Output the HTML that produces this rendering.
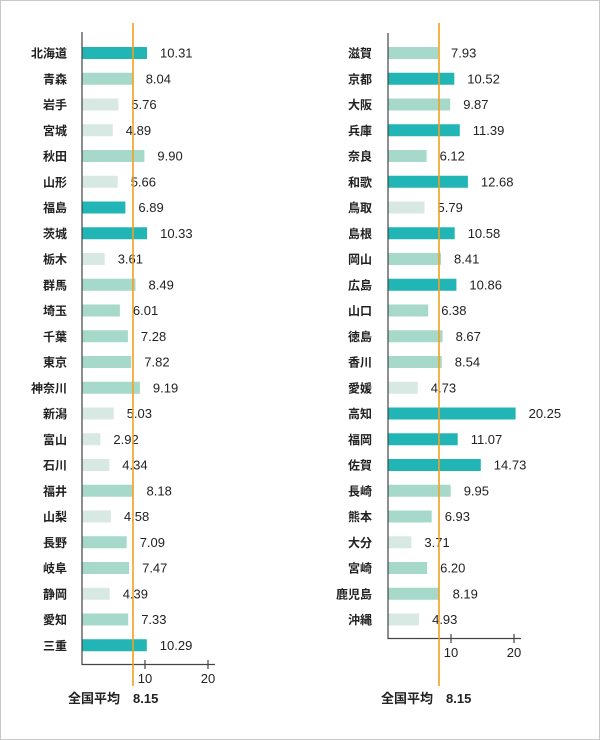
<!DOCTYPE html>
<html><head><meta charset="utf-8"><style>
html,body{margin:0;padding:0;background:#fff}
svg{display:block}
text{font-family:"Liberation Sans","Noto Sans CJK JP",sans-serif;fill:#222}
.n{font-size:12px;font-weight:bold;text-anchor:end}
.v{font-size:13px}
.d{fill:#22b5b5}.m{fill:#a6d9c9}.l{fill:#d8e9e3}
</style></head><body>
<svg width="600" height="740" viewBox="0 0 600 740">
<rect x="0.5" y="0.5" width="599" height="739" fill="#fff" stroke="#c8c8c8"/>
<!-- LEFT -->
<g>
<g transform="translate(0,53)"><text class="n" x="67" y="4.5">北海道</text><rect class="d" x="82" y="-6" width="65" height="12"/><text class="v" x="160" y="4.5">10.31</text></g>
<g transform="translate(0,78.75)"><text class="n" x="67" y="4.5">青森</text><rect class="m" x="82" y="-6" width="50.7" height="12"/><text class="v" x="145.7" y="4.5">8.04</text></g>
<g transform="translate(0,104.5)"><text class="n" x="67" y="4.5">岩手</text><rect class="l" x="82" y="-6" width="36.3" height="12"/><text class="v" x="131.3" y="4.5">5.76</text></g>
<g transform="translate(0,130.25)"><text class="n" x="67" y="4.5">宮城</text><rect class="l" x="82" y="-6" width="30.8" height="12"/><text class="v" x="125.8" y="4.5">4.89</text></g>
<g transform="translate(0,156)"><text class="n" x="67" y="4.5">秋田</text><rect class="m" x="82" y="-6" width="62.4" height="12"/><text class="v" x="157.4" y="4.5">9.90</text></g>
<g transform="translate(0,181.75)"><text class="n" x="67" y="4.5">山形</text><rect class="l" x="82" y="-6" width="35.7" height="12"/><text class="v" x="130.7" y="4.5">5.66</text></g>
<g transform="translate(0,207.5)"><text class="n" x="67" y="4.5">福島</text><rect class="d" x="82" y="-6" width="43.4" height="12"/><text class="v" x="138.4" y="4.5">6.89</text></g>
<g transform="translate(0,233.25)"><text class="n" x="67" y="4.5">茨城</text><rect class="d" x="82" y="-6" width="65.1" height="12"/><text class="v" x="160.1" y="4.5">10.33</text></g>
<g transform="translate(0,259)"><text class="n" x="67" y="4.5">栃木</text><rect class="l" x="82" y="-6" width="22.7" height="12"/><text class="v" x="117.7" y="4.5">3.61</text></g>
<g transform="translate(0,284.75)"><text class="n" x="67" y="4.5">群馬</text><rect class="m" x="82" y="-6" width="53.5" height="12"/><text class="v" x="148.5" y="4.5">8.49</text></g>
<g transform="translate(0,310.5)"><text class="n" x="67" y="4.5">埼玉</text><rect class="m" x="82" y="-6" width="37.9" height="12"/><text class="v" x="132.9" y="4.5">6.01</text></g>
<g transform="translate(0,336.25)"><text class="n" x="67" y="4.5">千葉</text><rect class="m" x="82" y="-6" width="45.9" height="12"/><text class="v" x="140.9" y="4.5">7.28</text></g>
<g transform="translate(0,362)"><text class="n" x="67" y="4.5">東京</text><rect class="m" x="82" y="-6" width="49.3" height="12"/><text class="v" x="144.3" y="4.5">7.82</text></g>
<g transform="translate(0,387.75)"><text class="n" x="67" y="4.5">神奈川</text><rect class="m" x="82" y="-6" width="57.9" height="12"/><text class="v" x="152.9" y="4.5">9.19</text></g>
<g transform="translate(0,413.5)"><text class="n" x="67" y="4.5">新潟</text><rect class="l" x="82" y="-6" width="31.7" height="12"/><text class="v" x="126.7" y="4.5">5.03</text></g>
<g transform="translate(0,439.25)"><text class="n" x="67" y="4.5">富山</text><rect class="l" x="82" y="-6" width="18.4" height="12"/><text class="v" x="113.4" y="4.5">2.92</text></g>
<g transform="translate(0,465)"><text class="n" x="67" y="4.5">石川</text><rect class="l" x="82" y="-6" width="27.3" height="12"/><text class="v" x="122.3" y="4.5">4.34</text></g>
<g transform="translate(0,490.75)"><text class="n" x="67" y="4.5">福井</text><rect class="m" x="82" y="-6" width="51.5" height="12"/><text class="v" x="146.5" y="4.5">8.18</text></g>
<g transform="translate(0,516.5)"><text class="n" x="67" y="4.5">山梨</text><rect class="l" x="82" y="-6" width="28.9" height="12"/><text class="v" x="123.9" y="4.5">4.58</text></g>
<g transform="translate(0,542.25)"><text class="n" x="67" y="4.5">長野</text><rect class="m" x="82" y="-6" width="44.7" height="12"/><text class="v" x="139.7" y="4.5">7.09</text></g>
<g transform="translate(0,568)"><text class="n" x="67" y="4.5">岐阜</text><rect class="m" x="82" y="-6" width="47.1" height="12"/><text class="v" x="142.1" y="4.5">7.47</text></g>
<g transform="translate(0,593.75)"><text class="n" x="67" y="4.5">静岡</text><rect class="l" x="82" y="-6" width="27.7" height="12"/><text class="v" x="122.7" y="4.5">4.39</text></g>
<g transform="translate(0,619.5)"><text class="n" x="67" y="4.5">愛知</text><rect class="m" x="82" y="-6" width="46.2" height="12"/><text class="v" x="141.2" y="4.5">7.33</text></g>
<g transform="translate(0,645.25)"><text class="n" x="67" y="4.5">三重</text><rect class="d" x="82" y="-6" width="64.8" height="12"/><text class="v" x="159.8" y="4.5">10.29</text></g>
<path d="M82 32V664.5H215M145 660V669M208 660V669" stroke="#444" stroke-width="1.2" fill="none"/>
<line x1="133" y1="23" x2="133" y2="686" stroke="#f0a020" stroke-width="1.6"/>
<text class="v" x="145" y="683" text-anchor="middle">10</text>
<text class="v" x="208" y="683" text-anchor="middle">20</text>
<text x="68" y="703" style="font-size:13px;font-weight:bold">全国平均　8.15</text>
</g>
<!-- RIGHT -->
<g>
<g transform="translate(0,53)"><text class="n" x="372" y="4.5">滋賀</text><rect class="m" x="388" y="-6" width="50" height="12"/><text class="v" x="451" y="4.5">7.93</text></g>
<g transform="translate(0,78.75)"><text class="n" x="372" y="4.5">京都</text><rect class="d" x="388" y="-6" width="66.3" height="12"/><text class="v" x="467.3" y="4.5">10.52</text></g>
<g transform="translate(0,104.5)"><text class="n" x="372" y="4.5">大阪</text><rect class="m" x="388" y="-6" width="62.2" height="12"/><text class="v" x="463.2" y="4.5">9.87</text></g>
<g transform="translate(0,130.25)"><text class="n" x="372" y="4.5">兵庫</text><rect class="d" x="388" y="-6" width="71.8" height="12"/><text class="v" x="472.8" y="4.5">11.39</text></g>
<g transform="translate(0,156)"><text class="n" x="372" y="4.5">奈良</text><rect class="m" x="388" y="-6" width="38.6" height="12"/><text class="v" x="439.6" y="4.5">6.12</text></g>
<g transform="translate(0,181.75)"><text class="n" x="372" y="4.5">和歌</text><rect class="d" x="388" y="-6" width="79.9" height="12"/><text class="v" x="480.9" y="4.5">12.68</text></g>
<g transform="translate(0,207.5)"><text class="n" x="372" y="4.5">鳥取</text><rect class="l" x="388" y="-6" width="36.5" height="12"/><text class="v" x="437.5" y="4.5">5.79</text></g>
<g transform="translate(0,233.25)"><text class="n" x="372" y="4.5">島根</text><rect class="d" x="388" y="-6" width="66.7" height="12"/><text class="v" x="467.7" y="4.5">10.58</text></g>
<g transform="translate(0,259)"><text class="n" x="372" y="4.5">岡山</text><rect class="m" x="388" y="-6" width="53" height="12"/><text class="v" x="454" y="4.5">8.41</text></g>
<g transform="translate(0,284.75)"><text class="n" x="372" y="4.5">広島</text><rect class="d" x="388" y="-6" width="68.4" height="12"/><text class="v" x="469.4" y="4.5">10.86</text></g>
<g transform="translate(0,310.5)"><text class="n" x="372" y="4.5">山口</text><rect class="m" x="388" y="-6" width="40.2" height="12"/><text class="v" x="441.2" y="4.5">6.38</text></g>
<g transform="translate(0,336.25)"><text class="n" x="372" y="4.5">徳島</text><rect class="m" x="388" y="-6" width="54.6" height="12"/><text class="v" x="455.6" y="4.5">8.67</text></g>
<g transform="translate(0,362)"><text class="n" x="372" y="4.5">香川</text><rect class="m" x="388" y="-6" width="53.8" height="12"/><text class="v" x="454.8" y="4.5">8.54</text></g>
<g transform="translate(0,387.75)"><text class="n" x="372" y="4.5">愛媛</text><rect class="l" x="388" y="-6" width="29.8" height="12"/><text class="v" x="430.8" y="4.5">4.73</text></g>
<g transform="translate(0,413.5)"><text class="n" x="372" y="4.5">高知</text><rect class="d" x="388" y="-6" width="127.6" height="12"/><text class="v" x="528.6" y="4.5">20.25</text></g>
<g transform="translate(0,439.25)"><text class="n" x="372" y="4.5">福岡</text><rect class="d" x="388" y="-6" width="69.7" height="12"/><text class="v" x="470.7" y="4.5">11.07</text></g>
<g transform="translate(0,465)"><text class="n" x="372" y="4.5">佐賀</text><rect class="d" x="388" y="-6" width="92.8" height="12"/><text class="v" x="493.8" y="4.5">14.73</text></g>
<g transform="translate(0,490.75)"><text class="n" x="372" y="4.5">長崎</text><rect class="m" x="388" y="-6" width="62.7" height="12"/><text class="v" x="463.7" y="4.5">9.95</text></g>
<g transform="translate(0,516.5)"><text class="n" x="372" y="4.5">熊本</text><rect class="m" x="388" y="-6" width="43.7" height="12"/><text class="v" x="444.7" y="4.5">6.93</text></g>
<g transform="translate(0,542.25)"><text class="n" x="372" y="4.5">大分</text><rect class="l" x="388" y="-6" width="23.4" height="12"/><text class="v" x="424.4" y="4.5">3.71</text></g>
<g transform="translate(0,568)"><text class="n" x="372" y="4.5">宮崎</text><rect class="m" x="388" y="-6" width="39.1" height="12"/><text class="v" x="440.1" y="4.5">6.20</text></g>
<g transform="translate(0,593.75)"><text class="n" x="372" y="4.5">鹿児島</text><rect class="m" x="388" y="-6" width="51.6" height="12"/><text class="v" x="452.6" y="4.5">8.19</text></g>
<g transform="translate(0,619.5)"><text class="n" x="372" y="4.5">沖縄</text><rect class="l" x="388" y="-6" width="31.1" height="12"/><text class="v" x="432.1" y="4.5">4.93</text></g>
<path d="M388 33V638.5H521M451 634V643M514 634V643" stroke="#444" stroke-width="1.2" fill="none"/>
<line x1="439" y1="23" x2="439" y2="686" stroke="#f0a020" stroke-width="1.6"/>
<text class="v" x="451" y="657" text-anchor="middle">10</text>
<text class="v" x="514" y="657" text-anchor="middle">20</text>
<text x="381" y="703" style="font-size:13px;font-weight:bold">全国平均　8.15</text>
</g>
</svg>
</body></html>
